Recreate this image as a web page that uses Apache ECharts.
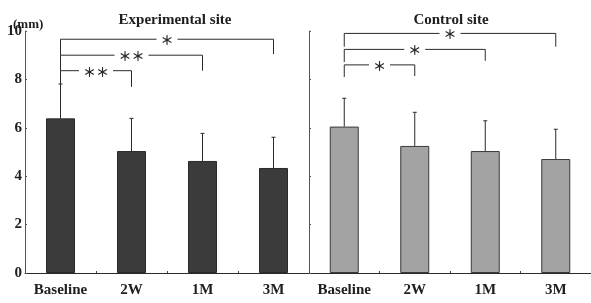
<!DOCTYPE html>
<html>
<head>
<meta charset="utf-8">
<script src="https://cdn.jsdelivr.net/npm/echarts@6/dist/echarts.min.js"></script>
<style>
  html, body { margin: 0; padding: 0; background: #fff; }
  #chart { width: 591px; height: 303px; }
</style>
</head>
<body>
<div id="chart"></div>
<script>
const categories = ['Baseline', '2W', '1M', '3M']
const expMean = [6.39, 5.04, 4.63, 4.34]
const expSd = [1.42, 1.35, 1.14, 1.27]
const ctrlMean = [6.05, 5.25, 5.04, 4.71]
const ctrlSd = [1.17, 1.39, 1.25, 1.23]
// [from index, to index, bracket level, left leg end, right leg end, mark]
const expBrackets = [
  [0, 1, 8.36, 7.81, 7.69, '＊＊'],
  [0, 2, 9.0, 8.36, 8.36, '＊＊'],
  [0, 3, 9.66, 9.0, 9.05, '＊']
]
const ctrlBrackets = [
  [0, 1, 8.6, 8.1, 8.14, '＊'],
  [0, 2, 9.24, 8.72, 8.77, '＊'],
  [0, 3, 9.9, 9.35, 9.35, '＊']
]

const serif = '"Liberation Serif", "DejaVu Serif", serif'
const ink = '#1e1e1e'

const errorSeries = (mean, sd, idx) => ({
  type: 'custom',
  xAxisIndex: idx,
  yAxisIndex: idx,
  silent: true,
  z: 3,
  data: mean.map((m, i) => [i, m, sd[i]]),
  encode: { x: 0, y: 1 },
  renderItem: (params, api) => {
    const i = api.value(0)
    const base = api.coord([i, api.value(1)])
    const top = api.coord([i, api.value(1) + api.value(2)])
    const st = { stroke: '#2a2a2a', lineWidth: 1 }
    return {
      type: 'group',
      children: [
        { type: 'line', shape: { x1: base[0], y1: base[1], x2: top[0], y2: top[1] }, style: st },
        { type: 'line', shape: { x1: top[0] - 2, y1: top[1], x2: top[0] + 2, y2: top[1] }, style: st }
      ]
    }
  }
})

const bracketSeries = (list, idx) => ({
  type: 'custom',
  xAxisIndex: idx,
  yAxisIndex: idx,
  silent: true,
  clip: false,
  z: 4,
  data: list.map((b) => b.slice(0, 5)),
  encode: { x: [0, 1], y: [2, 3, 4] },
  renderItem: (params, api) => {
    const a = api.value(0)
    const b = api.value(1)
    const lv = api.value(2)
    const p1 = api.coord([a, api.value(3)])
    const p2 = api.coord([a, lv])
    const p3 = api.coord([b, lv])
    const p4 = api.coord([b, api.value(4)])
    return {
      type: 'group',
      children: [
        {
          type: 'polyline',
          shape: { points: [p1, p2, p3, p4] },
          style: { stroke: '#2a2a2a', lineWidth: 1, fill: null }
        },
        {
          type: 'text',
          z2: 10,
          style: {
            text: list[params.dataIndex][5],
            x: (p2[0] + p3[0]) / 2,
            y: p2[1] + 1,
            align: 'center',
            verticalAlign: 'middle',
            font: 'bold 13px "Noto Sans CJK JP"',
            fill: '#2a2a2a',
            backgroundColor: '#fff',
            padding: [2, 4]
          }
        }
      ]
    }
  }
})

const xAxisBase = (idx) => ({
  type: 'category',
  gridIndex: idx,
  data: categories,
  axisLine: { lineStyle: { color: '#2a2a2a', width: 1 } },
  axisTick: { show: true, inside: true, length: 2, lineStyle: { color: '#444' } },
  axisLabel: { color: ink, fontFamily: serif, fontWeight: 'bold', fontSize: 15, margin: 10 }
})

const yAxisBase = (idx) => ({
  type: 'value',
  gridIndex: idx,
  min: 0,
  max: 10,
  interval: 2,
  splitLine: { show: false },
  axisLine: { show: true, lineStyle: { color: '#555', width: 1 } },
  axisTick: { show: true, inside: true, length: 2, lineStyle: { color: '#555' } }
})

const chart = echarts.init(document.getElementById('chart'))
chart.setOption({
  backgroundColor: '#fff',
  animation: false,
  title: [
    {
      text: 'Experimental site',
      left: 170,
      top: 8,
      textAlign: 'center',
      textStyle: { fontFamily: serif, fontWeight: 'bold', fontSize: 15, color: ink }
    },
    {
      text: 'Control site',
      left: 446,
      top: 8,
      textAlign: 'center',
      textStyle: { fontFamily: serif, fontWeight: 'bold', fontSize: 15, color: ink }
    }
  ],
  graphic: [
    {
      type: 'text',
      left: 13,
      top: 18,
      style: { text: '(mm)', font: `bold 13px ${serif}`, fill: ink }
    }
  ],
  grid: [
    { left: 25, right: 282, top: 31, bottom: 30 },
    { left: 309, right: 0, top: 31, bottom: 30 }
  ],
  xAxis: [xAxisBase(0), xAxisBase(1)],
  yAxis: [
    {
      ...yAxisBase(0),
      axisLabel: { color: ink, fontFamily: serif, fontWeight: 'bold', fontSize: 15, margin: 3 }
    },
    {
      ...yAxisBase(1),
      axisLabel: { show: false }
    }
  ],
  series: [
    {
      name: 'Experimental site',
      type: 'bar',
      xAxisIndex: 0,
      yAxisIndex: 0,
      barWidth: 29,
      data: expMean,
      itemStyle: { color: '#3b3b3b', borderColor: '#2a2a2a', borderWidth: 1 }
    },
    {
      name: 'Control site',
      type: 'bar',
      xAxisIndex: 1,
      yAxisIndex: 1,
      barWidth: 29,
      data: ctrlMean,
      itemStyle: { color: '#a3a3a3', borderColor: '#3a3a3a', borderWidth: 1 }
    },
    errorSeries(expMean, expSd, 0),
    errorSeries(ctrlMean, ctrlSd, 1),
    bracketSeries(expBrackets, 0),
    bracketSeries(ctrlBrackets, 1)
  ]
})
</script>
</body>
</html>
